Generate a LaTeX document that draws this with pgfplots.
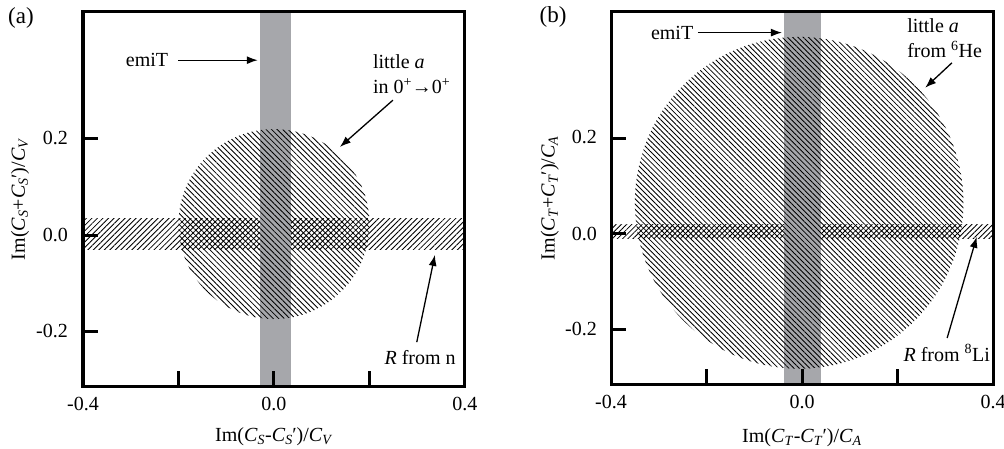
\documentclass[border=0pt]{standalone}
\usepackage{fontspec}
\setmainfont{Liberation Serif}
\usepackage{pgfplots}
\pgfplotsset{compat=1.18}
\usetikzlibrary{patterns,patterns.meta,arrows.meta}
\definecolor{barGray}{RGB}{166,167,171}
\newcommand{\fs}{\fontsize{20}{24}\selectfont}
\tikzset{
  hatchA/.style={pattern={Lines[angle=-45,distance=3.9pt,line width=0.85pt]}},
  hatchB/.style={pattern={Lines[angle=45,distance=3.9pt,line width=0.85pt]}},
  hatchC/.style={pattern={Lines[angle=-45,distance=3.7pt,line width=0.85pt]}},
  hatchD/.style={pattern={Lines[angle=45,distance=3.7pt,line width=0.85pt]}},
  arr/.style={-{Latex[length=11pt,width=8pt]}, line width=1.3pt},
  ytl/.style={font=\fs, anchor=east, inner sep=0pt},
}
\pgfplotsset{
  panel/.style={
    scale only axis, width=382pt, axis on top,
    xmin=-0.4, xmax=0.4, ymin=-0.313, ymax=0.463,
    xtick={-0.4,-0.2,0,0.2,0.4}, xticklabels={-0.4,,0.0,,0.4},
    ytick={-0.2,0,0.2}, yticklabels={,,},
    xtick pos=bottom, ytick pos=left, tick align=inside,
    major tick length=15pt,
    every tick/.style={black, line width=3pt},
    axis line style={line width=3pt},
    label style={font=\fs},
    xticklabel style={font=\fs, anchor=north, yshift=-8pt},
  },
}
\begin{document}
\begin{tikzpicture}
\path[use as bounding box] (0,0) rectangle (1004pt,448pt);
\node[font=\fontsize{23}{26}\selectfont] at (21pt,430pt) {(a)};
\node[font=\fontsize{23}{26}\selectfont] at (553pt,431pt) {(b)};
% y tick labels
\node[ytl] at (68pt,310pt) {0.2};
\node[ytl] at (68pt,213pt) {0.0};
\node[ytl] at (68pt,117pt) {-0.2};
\node[ytl] at (597pt,311pt) {0.2};
\node[ytl] at (597pt,214pt) {0.0};
\node[ytl] at (597pt,119pt) {-0.2};
% ---------------- panel (a)
\begin{axis}[panel, at={(83pt,62pt)}, anchor=south west, height=374pt,
  xlabel={Im(\textit{C}\textsubscript{\textit{S}}-\textit{C}\textsubscript{\textit{S}}\kern-0.5pt′)/\textit{C}\textsubscript{\textit{V}}},
  ylabel={Im(\textit{C}\textsubscript{\textit{S}}+\textit{C}\textsubscript{\textit{S}}\kern-0.5pt′)/\textit{C}\textsubscript{\textit{V}}},
  xlabel style={at={(axis description cs:0.5,-0.136)}, anchor=center},
  ylabel style={at={(axis description cs:-0.165,0.5)}, anchor=center, rotate=0},
]
% R from n band
\addplot[draw=none, hatchB] coordinates {(-0.4,-0.03) (0.4,-0.03) (0.4,0.035) (-0.4,0.035)} -- cycle;
% emiT bar
\addplot[draw=none, fill=barGray] coordinates {(-0.029,-0.4) (0.036,-0.4) (0.036,0.5) (-0.029,0.5)} -- cycle;
% little a circle
\fill[hatchA] (axis cs:0,0.023) ellipse [x radius=0.2, y radius=0.197];
\node[font=\fs] at (axis cs:-0.266,0.363) {emiT};
\draw[arr] (axis cs:-0.201,0.363) -- (axis cs:-0.034,0.363);
\node[font=\fs, anchor=west, align=left, inner sep=0pt] at (axis cs:0.207,0.333) {little \textit{a}\\[1pt]in 0\textsuperscript{+}→0\textsuperscript{+}};
\draw[arr] (axis cs:0.249,0.280) -- (axis cs:0.138,0.183);
\node[font=\fs] at (axis cs:0.306,-0.253) {\textit{R} from n};
\draw[arr] (axis cs:0.299,-0.222) -- (axis cs:0.337,-0.041);
\end{axis}
% ---------------- panel (b)
\begin{axis}[panel, at={(611pt,64pt)}, anchor=south west, height=372pt,
  xlabel={Im(\textit{C}\textsubscript{\textit{T}}-\textit{C}\textsubscript{\textit{T}}\kern-0.5pt′)/\textit{C}\textsubscript{\textit{A}}},
  ylabel={Im(\textit{C}\textsubscript{\textit{T}}+\textit{C}\textsubscript{\textit{T}}\kern-0.5pt′)/\textit{C}\textsubscript{\textit{A}}},
  xlabel style={at={(axis description cs:0.5,-0.145)}, anchor=center},
  ylabel style={at={(axis description cs:-0.16,0.5)}, anchor=center, rotate=0},
]
% R from 8Li band
\addplot[draw=none, hatchD] coordinates {(-0.4,-0.01) (0.4,-0.01) (0.4,0.02) (-0.4,0.02)} -- cycle;
% emiT bar
\addplot[draw=none, fill=barGray] coordinates {(-0.038,-0.4) (0.04,-0.4) (0.04,0.5) (-0.038,0.5)} -- cycle;
% little a circle
\fill[hatchC] (axis cs:-0.006,0.065) ellipse [x radius=0.344, y radius=0.346];
\node[font=\fs] at (axis cs:-0.272,0.42) {emiT};
\draw[arr] (axis cs:-0.218,0.42) -- (axis cs:-0.042,0.42);
\node[font=\fs, anchor=west, align=left, inner sep=0pt] at (axis cs:0.22,0.408) {little \textit{a}\\[1pt]from \textsuperscript{6}He};
\draw[arr] (axis cs:0.314,0.357) -- (axis cs:0.258,0.305);
\node[font=\fs, anchor=east, inner sep=0pt] at (axis cs:0.394,-0.248) {\textit{R} from \textsuperscript{8}Li};
\draw[arr] (axis cs:0.304,-0.217) -- (axis cs:0.366,-0.006);
\end{axis}
\end{tikzpicture}
\end{document}
